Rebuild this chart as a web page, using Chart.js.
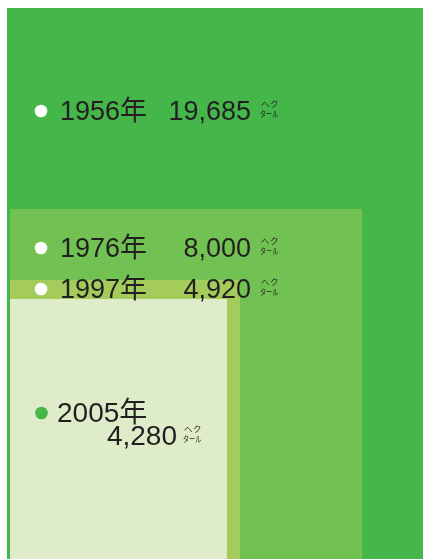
<!DOCTYPE html>
<html>
<head>
<meta charset="utf-8">
<script src="https://cdn.jsdelivr.net/npm/chart.js@4/dist/chart.umd.min.js"></script>
<style>
  html, body { margin: 0; padding: 0; background: #ffffff; }
  #wrap { width: 423px; height: 559px; }
</style>
</head>
<body>
<div id="wrap"><canvas id="mycanvas" width="423" height="559"></canvas></div>
<script>
// data
var years = ['1956年', '1976年', '1997年', '2005年'];
var hectares = [19685, 8000, 4920, 4280];
var unitTop = 'ヘク';
var unitBottom = 'タール';

// layout of the nested blocks (chart units, y measured up from the bottom)
var blockLeft = [7, 10, 10, 10];
var blockRight = [423, 362, 240, 227];
var blockTop = [551, 350, 279, 260];
var blockColor = ['#45b649', '#72c153', '#a3cc5a', '#dfecc9'];
var dotColor = ['#ffffff', '#ffffff', '#ffffff', '#45b649'];

var W = 423, H = 559;
var textColor = '#231f20';
var fontFamily = '"Liberation Sans", "Noto Sans CJK JP", sans-serif';
var smallFont = '8.5px "Noto Sans CJK JP", sans-serif';

function fmt(v) {
	return v.toLocaleString('en-US');
}

// label anchors: year text and value text (pixel positions)
var labels = [
	{ size: 27, dotX: 41, dotY: 111, yearX: 60, yearY: 120, valX: 251, valY: 120, unitGap: 9 },
	{ size: 27, dotX: 41, dotY: 248, yearX: 60, yearY: 257, valX: 251, valY: 257, unitGap: 9 },
	{ size: 27, dotX: 41, dotY: 289, yearX: 60, yearY: 298, valX: 251, valY: 298, unitGap: 9 },
	{ size: 28, dotX: 41.5, dotY: 413, yearX: 57, yearY: 422, valX: 177, valY: 445, unitGap: 6 }
];

var datasets = [];
// smallest block first so it ends up drawn on top
for (var i = years.length - 1; i >= 0; i--) {
	datasets.push({
		label: years[i],
		data: [{ x: blockLeft[i], y: blockTop[i] }, { x: blockRight[i], y: blockTop[i] }],
		backgroundColor: blockColor[i],
		borderColor: 'rgba(0,0,0,0)',
		borderWidth: 0,
		pointRadius: 0,
		fill: 'origin',
		tension: 0
	});
}

var labelPlugin = {
	id: 'labelPlugin',
	afterDatasetsDraw: function(chart) {
		var ctx = chart.ctx;
		ctx.save();
		for (var i = 0; i < years.length; i++) {
			var l = labels[i];
			ctx.fillStyle = dotColor[i];
			ctx.beginPath();
			ctx.arc(l.dotX, l.dotY, 6.3, 0, Math.PI * 2);
			ctx.fill();

			ctx.fillStyle = textColor;
			ctx.font = l.size + 'px ' + fontFamily;
			ctx.textBaseline = 'alphabetic';
			ctx.textAlign = 'left';
			ctx.fillText(years[i], l.yearX, l.yearY);
			ctx.textAlign = 'right';
			ctx.fillText(fmt(hectares[i]), l.valX, l.valY);

			// stacked unit
			var ux = l.valX + l.unitGap;
			ctx.font = smallFont;
			ctx.textAlign = 'left';
			ctx.fillText(unitTop.charAt(0), ux + 1, l.valY - 13);
			ctx.fillText(unitTop.charAt(1), ux + 10, l.valY - 13);
			ctx.save();
			ctx.translate(ux, l.valY - 3);
			ctx.scale(0.72, 1);
			ctx.fillText(unitBottom, 0, 0);
			ctx.restore();
		}
		ctx.restore();
	}
};

var ctx = document.getElementById('mycanvas');
var chart = new Chart(ctx, {
	type: 'line',
	data: { datasets: datasets },
	options: {
		responsive: false,
		animation: false,
		layout: { padding: 0 },
		plugins: {
			legend: { display: false },
			tooltip: { enabled: false }
		},
		scales: {
			x: { type: 'linear', min: 0, max: W, display: false },
			y: { type: 'linear', min: 0, max: H, display: false }
		}
	},
	plugins: [labelPlugin]
});
</script>
</body>
</html>
